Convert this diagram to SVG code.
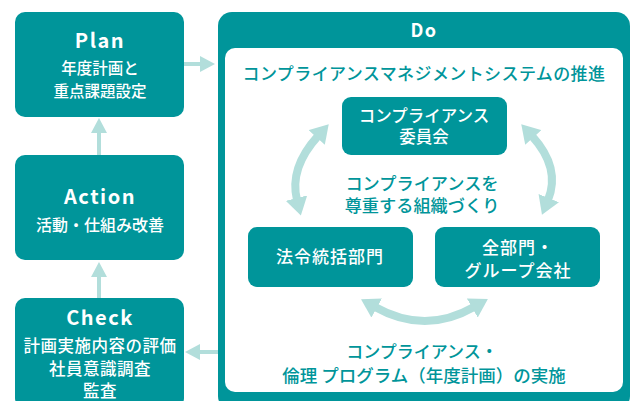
<svg xmlns="http://www.w3.org/2000/svg" width="634" height="401" viewBox="0 0 634 401">
<defs>
<style>
.box{fill:#00959a}
.h{font-family:"Noto Sans CJK JP","Noto Sans",sans-serif;font-weight:700;fill:#fff;text-anchor:middle;letter-spacing:1.5px}
.w{font-family:"Noto Sans CJK JP","Noto Sans",sans-serif;font-weight:500;fill:#fff;text-anchor:middle}
.t{font-family:"Noto Sans CJK JP","Noto Sans",sans-serif;font-weight:500;fill:#00959a;text-anchor:middle}
.arr{stroke:#b2dedb;fill:none}
.head{fill:#b2dedb}
</style>
<marker id="ah" markerUnits="userSpaceOnUse" markerWidth="20" markerHeight="22" refX="2" refY="11" orient="auto-start-reverse" viewBox="0 0 20 22">
<path d="M0,0 L18,11 L0,22 Z" fill="#b2dedb"/>
</marker>
</defs>

<g id="plan">
<rect class="box" x="15" y="12" width="169" height="105" rx="10"/>
<text class="h" x="100" y="48" font-size="20">Plan</text>
<text class="w" x="100" y="74" font-size="15.5">年度計画と</text>
<text class="w" x="100" y="97" font-size="15.5">重点課題設定</text>
</g>

<g id="action">
<rect class="box" x="15" y="155" width="169" height="105" rx="10"/>
<text class="h" x="100" y="204" font-size="20">Action</text>
<text class="w" x="100" y="231" font-size="16">活動・仕組み改善</text>
</g>

<g id="check">
<rect class="box" x="15" y="298" width="169" height="110" rx="10"/>
<text class="h" x="100" y="325" font-size="20">Check</text>
<text class="w" x="100" y="352" font-size="16.5" letter-spacing="0.5">計画実施内容の評価</text>
<text class="w" x="100" y="375" font-size="16.5" letter-spacing="0.5">社員意識調査</text>
<text class="w" x="100" y="397" font-size="16.5" letter-spacing="0.5">監査</text>
</g>

<g id="do">
<rect class="box" x="218" y="12" width="412" height="398" rx="14"/>
<rect x="225" y="48" width="398" height="344" rx="10" fill="#fff"/>
<text class="h" x="424" y="37" font-size="18" letter-spacing="3">Do</text>
<text class="t" x="424" y="80" font-size="17" letter-spacing="0.4">コンプライアンスマネジメントシステムの推進</text>
</g>

<g id="committee">
<rect class="box" x="342" y="97" width="165" height="58" rx="9"/>
<text class="w" x="424" y="122" font-size="16.5">コンプライアンス</text>
<text class="w" x="424" y="143" font-size="16.5">委員会</text>
</g>

<g id="center-text">
<text class="t" x="422" y="190" font-size="17.2">コンプライアンスを</text>
<text class="t" x="422" y="212" font-size="17.2">尊重する組織づくり</text>
</g>

<g id="legal">
<rect class="box" x="248" y="227" width="165" height="60" rx="9"/>
<text class="w" x="330" y="263" font-size="17" letter-spacing="1">法令統括部門</text>
</g>

<g id="all">
<rect class="box" x="435" y="227" width="165" height="60" rx="9"/>
<text class="w" x="518" y="254" font-size="17" letter-spacing="1">全部門・</text>
<text class="w" x="518" y="277" font-size="17" letter-spacing="1">グループ会社</text>
</g>

<g id="bottom-text">
<text class="t" x="422" y="358" font-size="17">コンプライアンス・</text>
<text class="t" x="424" y="382" font-size="17.5">倫理 プログラム（年度計画）の実施</text>
</g>

<g id="connectors">
<line class="arr" x1="184" y1="64" x2="201" y2="64" stroke-width="4"/>
<polygon class="head" points="200,56 215,64 200,72"/>
<line class="arr" x1="99" y1="155" x2="99" y2="132" stroke-width="4"/>
<polygon class="head" points="91,133 99,118 107,133"/>
<line class="arr" x1="99" y1="298" x2="99" y2="276" stroke-width="4"/>
<polygon class="head" points="91,277 99,262 107,277"/>
<line class="arr" x1="218" y1="352" x2="199" y2="352" stroke-width="4"/>
<polygon class="head" points="200,344 185,352 200,360"/>
<path class="arr" stroke-width="8" d="M318,136 Q289,168 297,200" marker-start="url(#ah)" marker-end="url(#ah)"/>
<path class="arr" stroke-width="8" d="M532,136 Q561,168 548,200" marker-start="url(#ah)" marker-end="url(#ah)"/>
<path class="arr" stroke-width="8" d="M375,307 Q425,335 474,307" marker-start="url(#ah)" marker-end="url(#ah)"/>
</g>
</svg>
